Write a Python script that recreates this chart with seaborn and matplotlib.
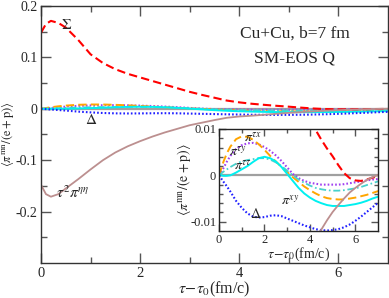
import matplotlib
matplotlib.use("Agg")
import matplotlib.pyplot as plt
import seaborn as sns
import pandas as pd
from matplotlib.ticker import FixedLocator

# ---------------- data ----------------
tau = [0, 0.1, 0.2, 0.35, 0.5, 0.75, 1, 1.25, 1.5, 1.75, 2, 2.25, 2.5, 2.75, 3,
       3.25, 3.5, 3.75, 4, 4.25, 4.5, 4.75, 5, 5.25, 5.5, 5.75, 6, 6.25, 6.5, 6.75, 7]

sigma = [0.148, 0.165, 0.171, 0.167, 0.158, 0.134, 0.106, 0.089, 0.077, 0.068, 0.061,
         0.054, 0.047, 0.040, 0.033, 0.027, 0.0215, 0.016, 0.0125, 0.0098, 0.0077,
         0.0058, 0.0041, 0.0022, 0.0005, -0.0006, -0.0011, -0.0012, -0.0009, -0.0005, -0.0002]

pi_etaeta = [-0.148, -0.166, -0.171, -0.166, -0.155, -0.137, -0.118, -0.100, -0.085,
             -0.073, -0.063, -0.054, -0.046, -0.039, -0.032, -0.027, -0.022, -0.0175,
             -0.0150, -0.0135, -0.0117, -0.0097, -0.0079, -0.0064, -0.0050, -0.0037,
             -0.0027, -0.0018, -0.0010, -0.0004, 0.0001]

pi_taux = [0, 0.0015, 0.003, 0.0048, 0.0062, 0.0078, 0.0084, 0.0083, 0.0077, 0.0067,
           0.0055, 0.0042, 0.0030, 0.0018, 0.0007, -0.0004, -0.0014, -0.0024, -0.0032,
           -0.0039, -0.0045, -0.0049, -0.0051, -0.0052, -0.0052, -0.0050, -0.0048,
           -0.0045, -0.0042, -0.0038, -0.0034]

pi_tauy = [0, 0.0008, 0.0016, 0.0030, 0.0042, 0.0057, 0.0065, 0.0069, 0.0070, 0.0067,
           0.0061, 0.0053, 0.0043, 0.0031, 0.0017, 0.0003, -0.0006, -0.0012, -0.0016,
           -0.0018, -0.0020, -0.0020, -0.0020, -0.0020, -0.0019, -0.0017, -0.0015,
           -0.0013, -0.0011, -0.0009, -0.0008]

pi_tautau = [0, 0.0004, 0.0008, 0.0013, 0.0018, 0.0025, 0.0030, 0.0033, 0.0035, 0.0037,
             0.0037, 0.0034, 0.0028, 0.0020, 0.0010, 0.0, -0.0009, -0.0016, -0.0022,
             -0.0027, -0.0030, -0.0032, -0.0033, -0.0033, -0.0032, -0.0030, -0.0028,
             -0.0025, -0.0021, -0.0017, -0.0013]

pi_xy = [0, 0, -0.0001, -0.0001, 0.0, 0.0006, 0.0013, 0.0020, 0.0029, 0.0037, 0.0040,
         0.0037, 0.0030, 0.0018, 0.0003, -0.0012, -0.0027, -0.0039, -0.0048, -0.0055,
         -0.0060, -0.0064, -0.0066, -0.0066, -0.0066, -0.0064, -0.0062, -0.0059,
         -0.0055, -0.0050, -0.0046]

delta = [0, -0.0007, -0.0014, -0.0024, -0.0035, -0.0055, -0.0070, -0.0082, -0.0089,
         -0.0091, -0.0090, -0.0087, -0.0086, -0.0088, -0.0093, -0.0098, -0.0103,
         -0.0108, -0.0112, -0.0116, -0.0118, -0.0119, -0.0118, -0.0116, -0.0112,
         -0.0106, -0.0098, -0.0089, -0.0079, -0.0069, -0.0059]

main_xticks = [0, 2, 4, 6]
main_xticklabels = ["0", "2", "4", "6"]
main_yticks = [-0.2, -0.1, 0, 0.1, 0.2]
main_yticklabels = ["-0.2", "-0.1", "0", "0.1", "0.2"]
inset_xticks = [0, 2, 4, 6]
inset_xticklabels = ["0", "2", "4", "6"]
inset_yticks = [-0.01, 0, 0.01]
inset_yticklabels = ["-0.01", "0", "0.01"]

# ---------------- style ----------------
sns.set_style("ticks")
plt.rcParams["font.family"] = ["Liberation Serif", "DejaVu Serif"]
plt.rcParams["mathtext.fontset"] = "stix"
plt.rcParams["lines.scale_dashes"] = False

series = [
    (pi_tauy,   "#a040f0", (0, (1.2, 1.5)), 1.5),
    (pi_taux,   "#ffa500", (0, (6, 3)),     1.4),
    (pi_tautau, "#48d1cc", (0, (5, 2, 1.2, 2)), 1.3),
    (pi_xy,     "#00f0f0", "-",             1.4),
    (delta,     "#2020ff", (0, (1.2, 1.5)), 1.5),
    (sigma,     "#ff0000", (0, (6, 3)),     1.5),
    (pi_etaeta, "#bc8f8f", "-",             1.3),
]

fig = plt.figure(figsize=(3.89, 2.98), dpi=100)
ax = fig.add_axes([0.1054, 0.1174, 0.8916, 0.8626])
ax.axhline(0, color="#a0a0a0", lw=1.6, zorder=1)

df = pd.DataFrame({"tau": tau})
for vals, col, ls, lw in series:
    df["v"] = vals
    sns.lineplot(data=df, x="tau", y="v", ax=ax, color=col, linestyle=ls, lw=lw,
                 estimator=None, sort=False, legend=False)

ax.set_xlim(0, 7)
ax.set_ylim(-0.3, 0.2)
ax.set_xticks(main_xticks)
ax.set_xticklabels(main_xticklabels)
ax.set_yticks(main_yticks)
ax.set_yticklabels(main_yticklabels)
ax.xaxis.set_minor_locator(FixedLocator([1, 3, 5]))
ax.yaxis.set_minor_locator(FixedLocator([-0.25, -0.15, -0.05, 0.05, 0.15]))
ax.tick_params(which="both", direction="in", top=True, right=True, labelsize=10, pad=2.5,
               width=1, color="#555555")
ax.tick_params(which="major", length=7)
ax.tick_params(which="minor", length=4)
ax.tick_params(axis="x", labelsize=10.5, pad=3)
for s in ax.spines.values():
    s.set_linewidth(1.0)
    s.set_color("#333333")
ax.set_xlabel(r"$\tau\!-\!\tau_0$(fm/c)", fontsize=11.5, labelpad=0)
ax.set_ylabel(r"$\langle\pi^{\rm mn}/({\rm e+p})\rangle$", fontsize=9)
ax.yaxis.set_label_coords(-0.072, 0.5)

ax.text(0.732, 0.891, "Cu+Cu, b=7 fm", transform=ax.transAxes, ha="center",
        va="center", fontsize=12.5)
ax.text(0.732, 0.794, "SM-EOS Q", transform=ax.transAxes, ha="center",
        va="center", fontsize=12.5)
ax.text(0.52, 0.162, r"$\Sigma$", fontsize=11, ha="center", va="center")
ax.text(1.02, -0.021, r"$\Delta$", fontsize=11, ha="center", va="center")
ax.text(0.65, -0.163, r"$\tau^2\pi^{\eta\eta}$", fontsize=11, ha="center", va="center")

# ---------------- inset ----------------
ins = fig.add_axes([0.563, 0.2248, 0.409, 0.3424])
ins.set_facecolor("white")
ins.axhline(0, color="#a0a0a0", lw=1.6, zorder=1)
for vals, col, ls, lw in series:
    df["v"] = vals
    sns.lineplot(data=df, x="tau", y="v", ax=ins, color=col, linestyle=ls, lw=lw,
                 estimator=None, sort=False, legend=False)
ins.set_xlim(0, 7)
ins.set_ylim(-0.012, 0.01)
ins.set_xticks(inset_xticks)
ins.set_xticklabels(inset_xticklabels)
ins.set_yticks(inset_yticks)
ins.set_yticklabels(inset_yticklabels)
ins.xaxis.set_minor_locator(FixedLocator([1, 3, 5]))
ins.yaxis.set_minor_locator(FixedLocator([-0.008, -0.006, -0.004, -0.002,
                                          0.002, 0.004, 0.006, 0.008]))
ins.tick_params(which="both", direction="in", top=True, right=True, labelsize=9,
                pad=2, width=1, color="#555555")
ins.tick_params(which="major", length=5)
ins.tick_params(which="minor", length=3)
for s in ins.spines.values():
    s.set_linewidth(1.0)
    s.set_color("#222222")
ins.set_xlabel(r"$\tau\!-\!\tau_0$(fm/c)", fontsize=10, labelpad=0)
ins.set_ylabel(r"$\langle\pi^{\rm mn}/({\rm e+p})\rangle$", fontsize=10, labelpad=-2)

ins.text(1.5, 0.0080, r"$\pi^{\tau x}$", fontsize=10, ha="center", va="center")
ins.text(0.85, 0.0050, r"$\pi^{\tau y}$", fontsize=10, ha="center", va="center")
ins.text(1.05, 0.0020, r"$\pi^{\tau\tau}$", fontsize=10, ha="center", va="center")
ins.text(3.15, -0.0055, r"$\pi^{xy}$", fontsize=10, ha="center", va="center")
ins.text(1.6, -0.0083, r"$\Delta$", fontsize=10, ha="center", va="center")

fig.savefig("out.png", dpi=100)
